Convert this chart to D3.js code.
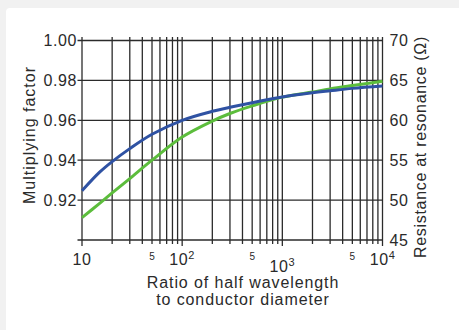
<!DOCTYPE html>
<html>
<head>
<meta charset="utf-8">
<script src="https://cdn.jsdelivr.net/npm/d3@7"></script>
<style>
  body { margin: 0; background: #f1f1f1; }
  text { font-family: "Liberation Sans", Arial, sans-serif; fill: #2a2a2a; }
</style>
</head>
<body>
<svg id="Chart"></svg>
<script>
// values
let ratio = [10, 15, 20, 30, 50, 100, 200, 300, 500, 1000, 2000, 3000, 5000, 10000]
let factor = [0.9247, 0.9340, 0.9393, 0.9458, 0.9530, 0.9600, 0.9645, 0.9665, 0.9688, 0.9717, 0.9738, 0.9748, 0.9760, 0.9772]
let resistance = [47.8, 49.6, 50.9, 52.7, 55.0, 57.9, 59.9, 60.85, 61.8, 62.9, 63.55, 63.93, 64.35, 64.9]

let factorTicks = [0.92, 0.94, 0.96, 0.98, 1.00]
let resistanceTicks = [45, 50, 55, 60, 65, 70]
let decadeLabels = [{v: 10, base: "10", sup: ""}, {v: 100, base: "10", sup: "2"}, {v: 1000, base: "10", sup: "3"}, {v: 10000, base: "10", sup: "4"}]
let fiveLabels = [50, 500, 5000]

function getConfig() {
  let width = 459
  let height = 330
  let margin = {top: 40.5, bottom: 90, left: 82, right: 76.5}
  let container = d3.select("#Chart")
    .attr("width", width)
    .attr("height", height)
  return {width, height, margin, container}
}

function getScales(config) {
  let {width, height, margin} = config
  let xScale = d3.scaleLog()
    .domain([10, 10000])
    .range([margin.left, width - margin.right])
  let yLeft = d3.scaleLinear()
    .domain([0.90, 1.00])
    .range([height - margin.bottom, margin.top])
  let yRight = d3.scaleLinear()
    .domain([45, 70])
    .range([height - margin.bottom, margin.top])
  return {xScale, yLeft, yRight}
}

function drawGrid(scales, config) {
  let {container} = config
  let {xScale, yLeft} = scales
  let grid = container.append("g")
    .attr("stroke", "#2b2b2b")
    .attr("stroke-width", 1.3)

  //every log tick becomes a vertical line, sticking out a little above and below
  let xTicks = xScale.ticks()
  grid.selectAll(".vline")
    .data(xTicks)
    .enter().append("line")
    .attr("x1", d => xScale(d))
    .attr("x2", d => xScale(d))
    .attr("y1", yLeft(1.00) - 3.5)
    .attr("y2", d => yLeft(0.90) + (Math.log10(d) % 1 === 0 ? 6 : 4))

  grid.selectAll(".hline")
    .data(d3.range(0, 6).map(i => 0.90 + i * 0.02))
    .enter().append("line")
    .attr("x1", xScale(10) - 4.5)
    .attr("x2", xScale(10000))
    .attr("y1", d => yLeft(d))
    .attr("y2", d => yLeft(d))
}

function drawCurves(scales, config) {
  let {container} = config
  let {xScale, yLeft, yRight} = scales

  let factorLine = d3.line()
    .x((d, i) => xScale(ratio[i]))
    .y(d => yLeft(d))
    .curve(d3.curveCatmullRom.alpha(0.5))
  let resistanceLine = d3.line()
    .x((d, i) => xScale(ratio[i]))
    .y(d => yRight(d))
    .curve(d3.curveCatmullRom.alpha(0.5))

  container.append("path")
    .attr("d", resistanceLine(resistance))
    .attr("fill", "none")
    .attr("stroke", "#5cbd3c")
    .attr("stroke-width", 3)
  container.append("path")
    .attr("d", factorLine(factor))
    .attr("fill", "none")
    .attr("stroke", "#2f52a3")
    .attr("stroke-width", 3)
}

function drawAxes(scales, config) {
  let {container} = config
  let {xScale, yLeft, yRight} = scales

  container.append("g").selectAll("text")
    .data(factorTicks)
    .enter().append("text")
    .attr("x", xScale(10) - 5)
    .attr("y", d => yLeft(d))
    .attr("dy", "0.36em")
    .attr("text-anchor", "end")
    .style("font-size", "16px")
    .style("letter-spacing", "0.6px")
    .text(d => d.toFixed(2))

  container.append("g").selectAll("text")
    .data(resistanceTicks)
    .enter().append("text")
    .attr("x", xScale(10000) + 7)
    .attr("y", d => yRight(d))
    .attr("dy", "0.36em")
    .style("font-size", "16px")
    .style("letter-spacing", "0.6px")
    .text(d => d)

  let bottom = yLeft(0.90)
  let decades = container.append("g").selectAll("text")
    .data(decadeLabels)
    .enter().append("text")
    .attr("x", d => xScale(d.v))
    .attr("y", d => bottom + (d.v === 1000 ? 32 : 25))
    .attr("text-anchor", "middle")
    .style("font-size", "16px")
    .style("letter-spacing", "0.6px")
  decades.append("tspan").text(d => d.base)
  decades.append("tspan")
    .attr("dy", -6)
    .style("font-size", "11px")
    .text(d => d.sup)

  container.append("g").selectAll("text")
    .data(fiveLabels)
    .enter().append("text")
    .attr("x", d => xScale(d))
    .attr("y", bottom + 20)
    .attr("text-anchor", "middle")
    .style("font-size", "10px")
    .text("5")

  // axis titles, centred a bit right of the plot middle like the original
  let titleX = 243
  container.append("text")
    .attr("x", titleX)
    .attr("y", 288)
    .attr("text-anchor", "middle")
    .style("font-size", "16px")
    .style("letter-spacing", "0.9px")
    .text("Ratio of half wavelength")
  container.append("text")
    .attr("x", titleX)
    .attr("y", 305)
    .attr("text-anchor", "middle")
    .style("font-size", "16px")
    .style("letter-spacing", "0.9px")
    .text("to conductor diameter")

  container.append("text")
    .attr("transform", "translate(35,135) rotate(-90)")
    .attr("text-anchor", "middle")
    .style("font-size", "16px")
    .style("letter-spacing", "1px")
    .text("Multiplying factor")
  container.append("text")
    .attr("transform", "translate(426,147) rotate(-90)")
    .attr("text-anchor", "middle")
    .style("font-size", "16px")
    .style("letter-spacing", "0.7px")
    .text("Resistance at resonance (Ω)")
}

function drawChart() {
  let config = getConfig()
  let scales = getScales(config)
  //white card on a light grey page
  config.container.append("rect")
    .attr("x", 6).attr("y", 8)
    .attr("width", 470).attr("height", 340)
    .attr("rx", 4)
    .attr("fill", "#ffffff")
  drawGrid(scales, config)
  drawCurves(scales, config)
  drawAxes(scales, config)
}

drawChart()
</script>
</body>
</html>
